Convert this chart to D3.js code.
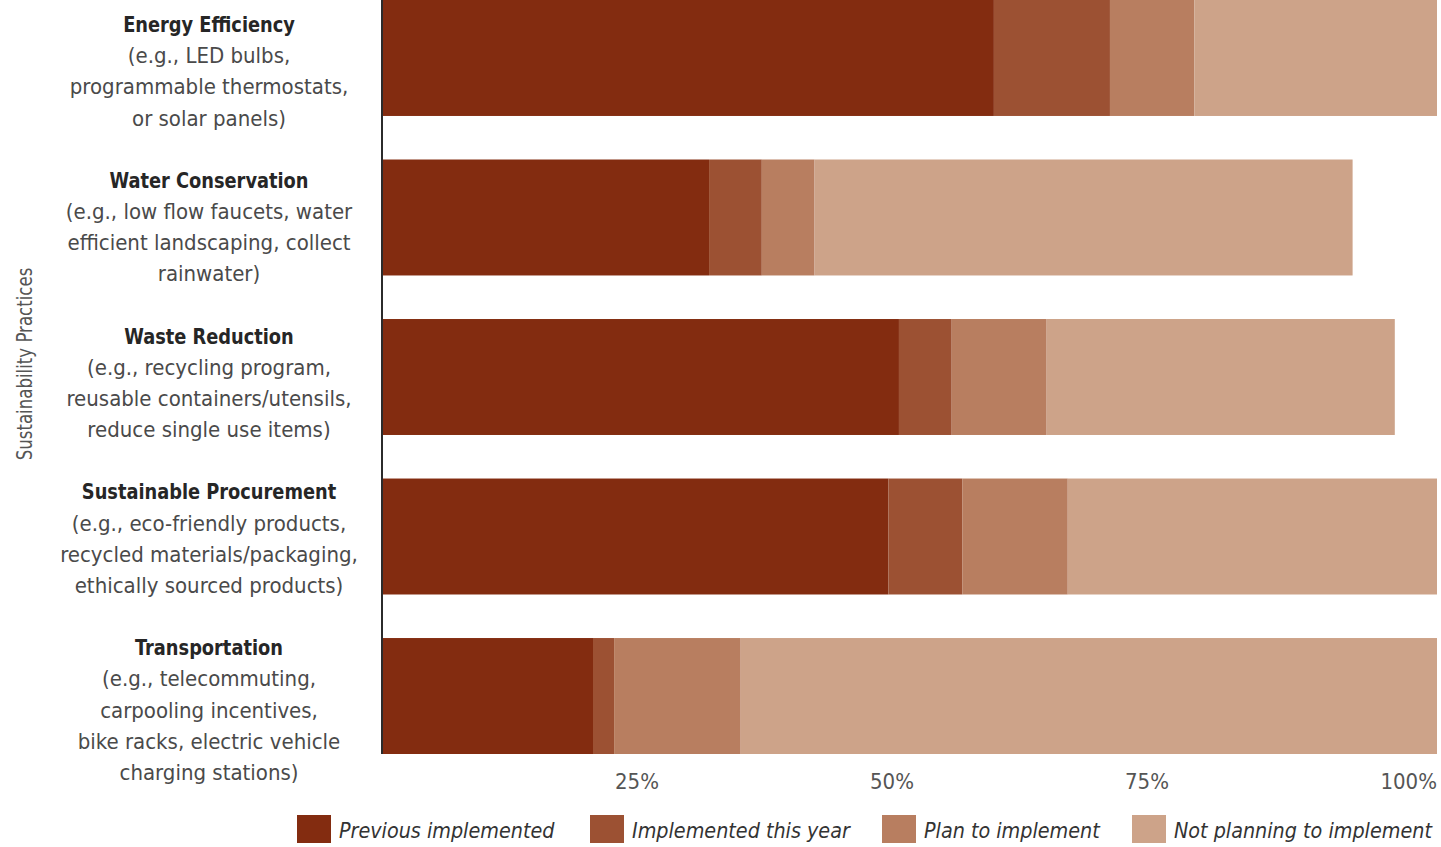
<!DOCTYPE html>
<html>
<head>
<meta charset="utf-8">
<title>Sustainability Practices</title>
<script src="https://d3js.org/d3.v7.min.js"></script>
<style>
  body { margin: 0; background: #fff; }
  svg text { font-family: "Liberation Sans Narrow", "DejaVu Sans Condensed", "Roboto", sans-serif; font-stretch: condensed; }
</style>
</head>
<body>
<script>
// data
const titles = ["Energy Efficiency", "Water Conservation", "Waste Reduction", "Sustainable Procurement", "Transportation"];
const details = [
  ["(e.g., LED bulbs,", "programmable thermostats,", "or solar panels)"],
  ["(e.g., low flow faucets, water", "efficient landscaping, collect", "rainwater)"],
  ["(e.g., recycling program,", "reusable containers/utensils,", "reduce single use items)"],
  ["(e.g., eco-friendly products,", "recycled materials/packaging,", "ethically sourced products)"],
  ["(e.g., telecommuting,", "carpooling incentives,", "bike racks, electric vehicle", "charging stations)"]
];
const seriesNames = ["Previous implemented", "Implemented this year", "Plan to implement", "Not planning to implement"];
const previous    = [58, 31, 49, 48, 20];
const thisYear    = [11, 5, 5, 7, 2];
const planned     = [8, 5, 9, 10, 12];
const notPlanning = [23, 51, 33, 35, 66];
const tickValues = [25, 50, 75, 100];
const colors = ["#832c10", "#9c5133", "#b87e60", "#cda389"];

const W = 1441, H = 847;
const mLeft = 382, mRight = 1437, mTop = 0, mBottom = 754;

const svg = d3.select("body").append("svg").attr("width", W).attr("height", H);

const x = d3.scaleLinear().domain([0, 100]).range([mLeft, mRight]);
const y = d3.scaleBand().domain(titles).range([mTop, mBottom]).paddingInner(0.273).paddingOuter(0);

const rows = titles.map((t, i) => ({ key: t, values: [previous[i], thisYear[i], planned[i], notPlanning[i]] }));
const stacked = d3.stack().keys(d3.range(4)).value((d, k) => d.values[k])(rows);

svg.append("g").selectAll("g")
  .data(stacked).join("g")
    .attr("fill", (d, i) => colors[i])
  .selectAll("rect")
  .data(d => d).join("rect")
    .attr("x", d => x(d[0]))
    .attr("width", d => x(d[1]) - x(d[0]))
    .attr("y", d => y(d.data.key))
    .attr("height", y.bandwidth());

// left axis line
svg.append("line")
  .attr("x1", mLeft).attr("x2", mLeft)
  .attr("y1", mTop).attr("y2", mBottom)
  .attr("stroke", "#2b2b2b").attr("stroke-width", 2);

// category labels (blocks sit a bit tighter than the bands)
const labelY = i => 32 + i * 155.8;
const lab = svg.append("g").selectAll("g")
  .data(titles).join("g")
    .attr("transform", (d, i) => `translate(209,${labelY(i)})`);
lab.append("text")
  .attr("text-anchor", "middle")
  .attr("font-size", 22)
  .attr("font-weight", "bold")
  .attr("fill", "#262626")
  .attr("transform", "scale(0.9,1)")
  .text(d => d);
lab.append("text")
  .attr("text-anchor", "middle")
  .attr("font-size", 22)
  .attr("fill", "#4a4a4a")
  .selectAll("tspan")
  .data((d, i) => details[i]).join("tspan")
    .attr("x", 0)
    .attr("y", (t, j) => (j + 1) * 31.2)
    .text(t => t);

// tick labels
const tickPos = d3.scaleLinear().domain([0, 100]).range([mLeft, 1402]);
svg.append("g").selectAll("text")
  .data(tickValues).join("text")
    .attr("x", d => d === 100 ? mRight : tickPos(d))
    .attr("y", 789)
    .attr("text-anchor", d => d === 100 ? "end" : "middle")
    .attr("font-size", 22)
    .attr("fill", "#555")
    .text(d => d + "%");

// y title
svg.append("text")
  .attr("transform", "translate(32,364) rotate(-90) scale(0.84,1)")
  .attr("text-anchor", "middle")
  .attr("font-size", 22)
  .attr("fill", "#555")
  .text("Sustainability Practices");

// legend
const legX = [297, 590, 882, 1132];
const leg = svg.append("g").selectAll("g")
  .data(seriesNames).join("g")
    .attr("transform", (d, i) => `translate(${legX[i]},815)`);
leg.append("rect").attr("width", 34).attr("height", 28).attr("fill", (d, i) => colors[i]);
leg.append("text")
  .attr("transform", "translate(42,23) scale(0.97,1)")
  .attr("font-size", 22)
  .attr("font-style", "italic")
  .attr("fill", "#333")
  .text(d => d);
</script>
</body>
</html>
